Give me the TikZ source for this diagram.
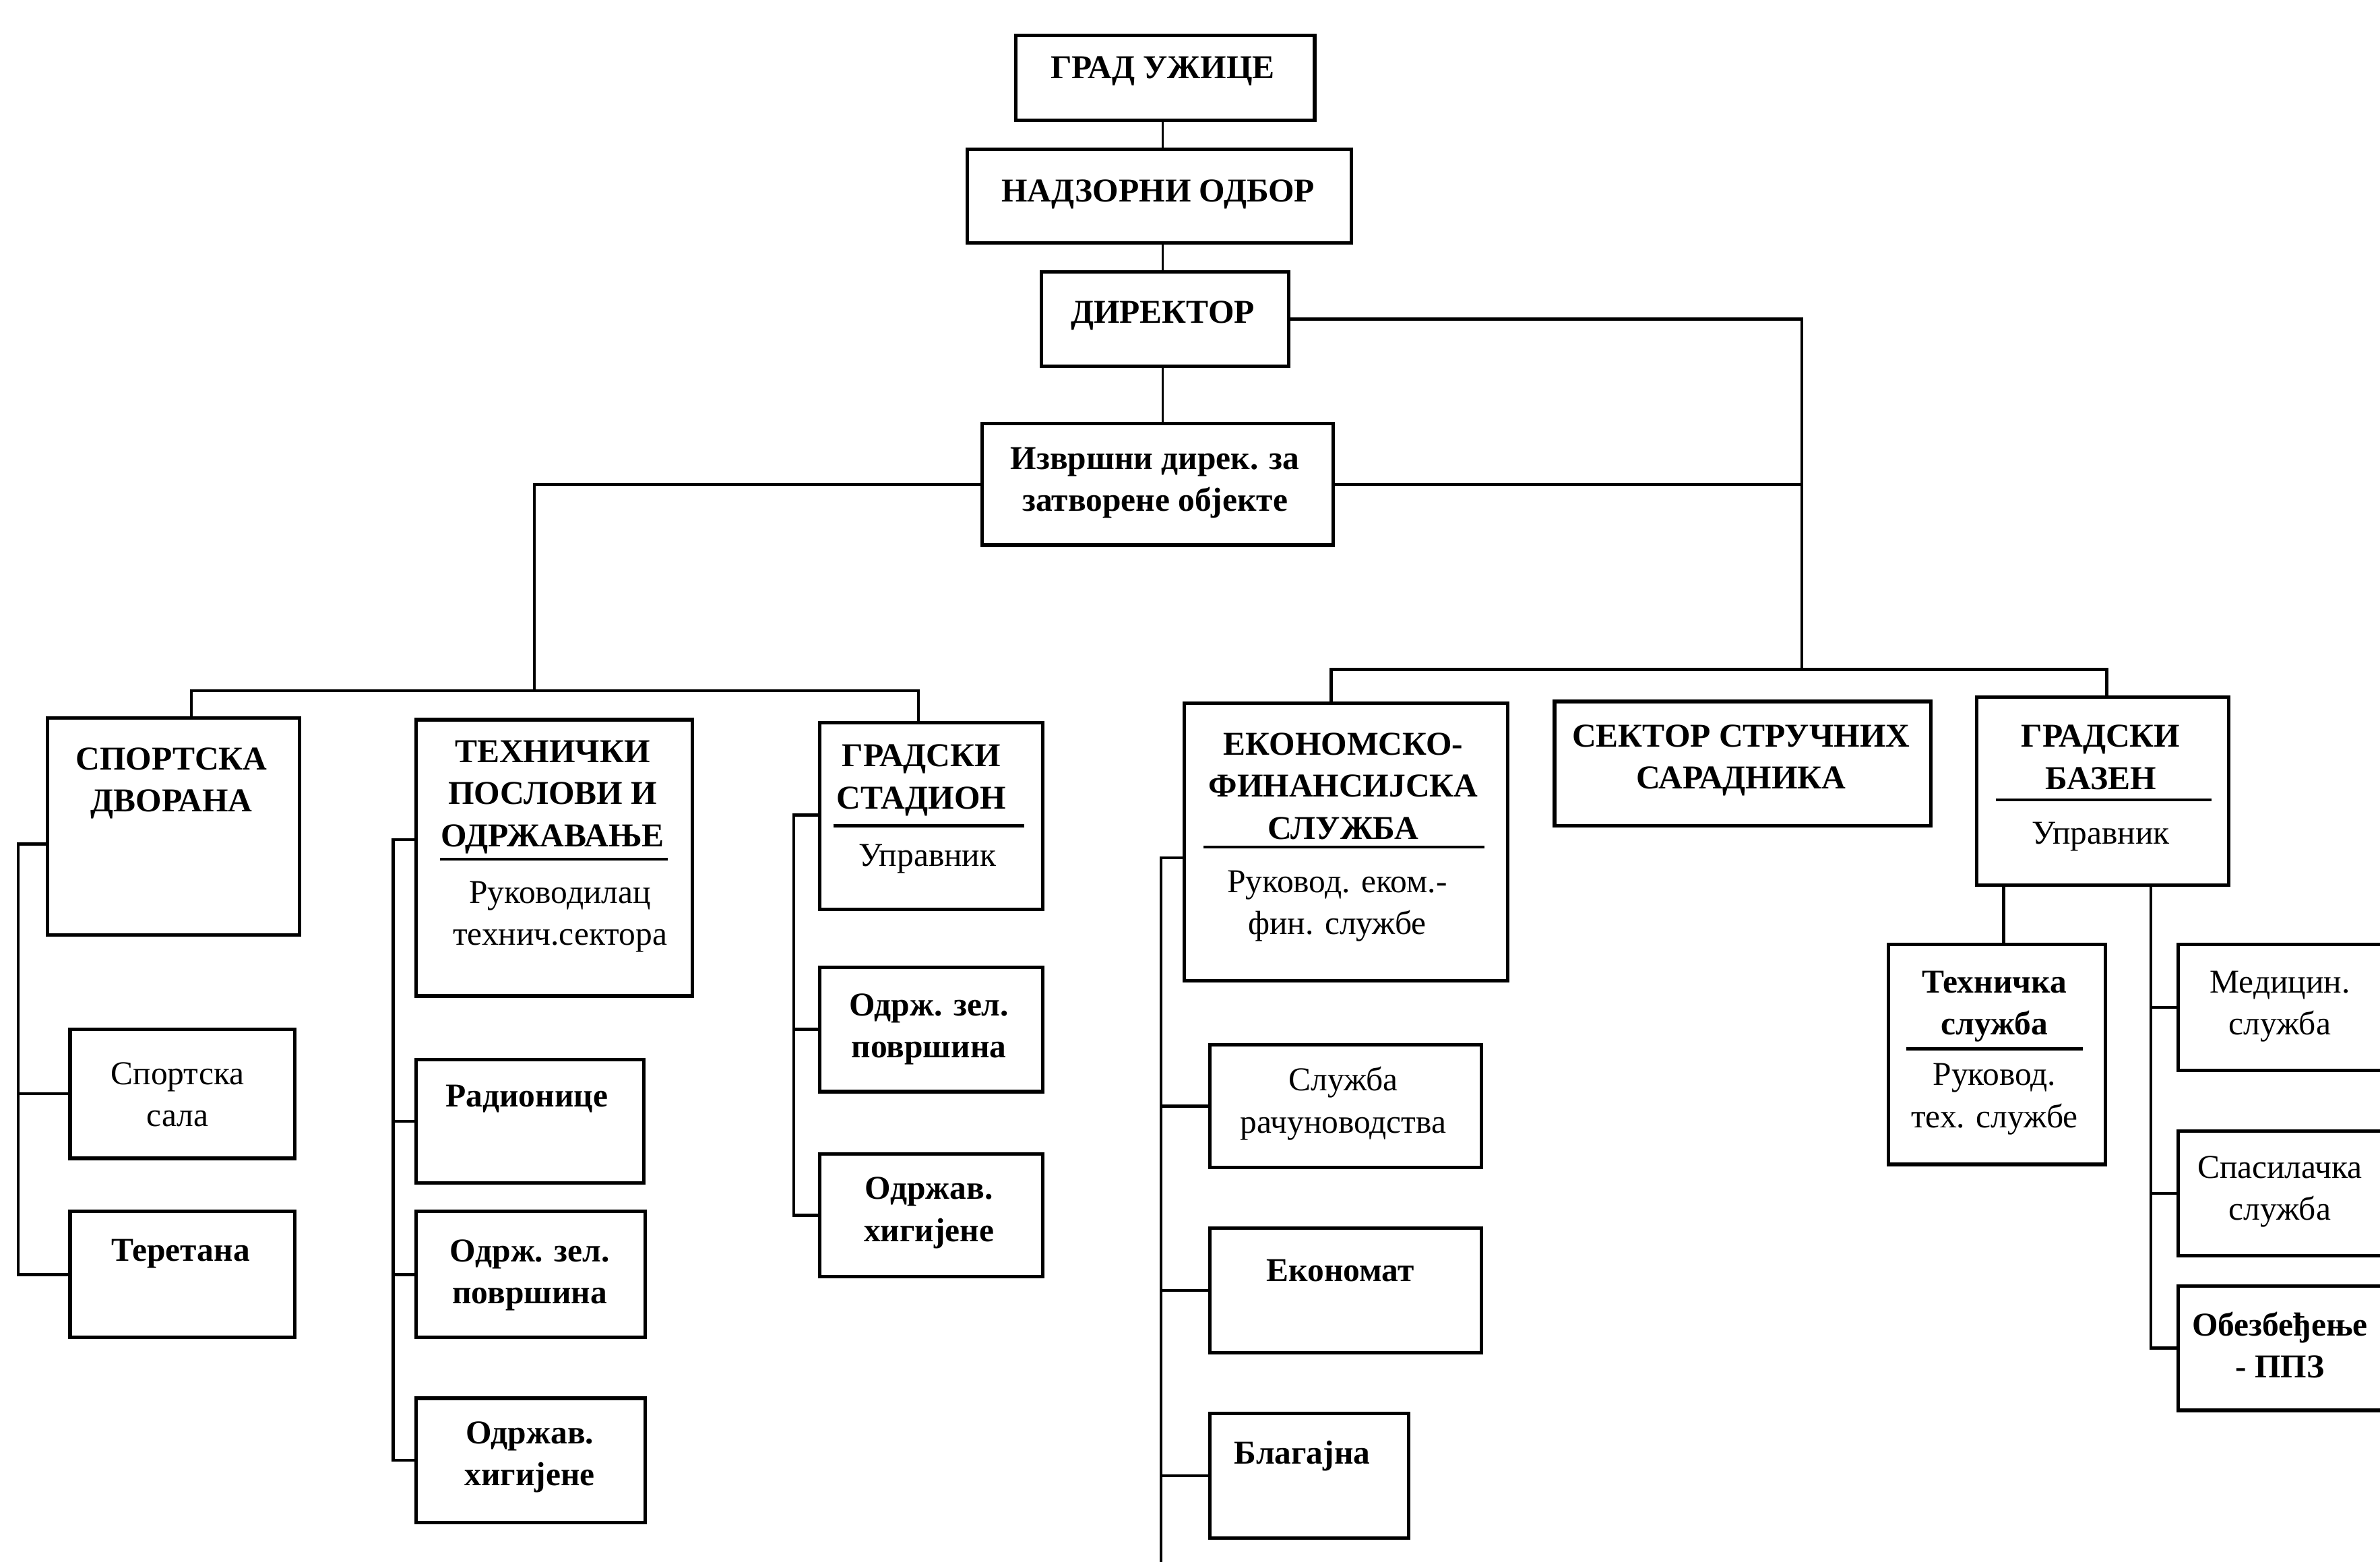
\documentclass[tikz,border=0pt]{standalone}
\usepackage{fontspec}
\setmainfont{Liberation Serif}
\newcommand\mybox[5]{\node[box,minimum width={(#4-#2)*0.02cm},minimum height={(#5-#3)*0.02cm}] (#1) at (#2,#3) {};}
\begin{document}
\begin{tikzpicture}[x=0.02cm,y=-0.02cm,
  box/.style={draw,line width=1.3pt,inner sep=0pt,anchor=north west},
  con/.style={line width=1.1pt},
  thinline/.style={line width=0.7pt},
  sep/.style={line width=1.1pt},
  tb/.style={font=\bfseries\fontsize{12.5}{15.8}\selectfont,align=center,inner sep=0pt},
  tr/.style={font=\fontsize{12.5}{15.8}\selectfont,align=center,inner sep=0pt},
]
\useasboundingbox (0,0) rectangle (1568,1029);
\clip (0,0) rectangle (1568,1029);
\fill[white] (0,0) rectangle (1568,1029);

% boxes
\mybox{gu}{668}{22}{865}{78}
\mybox{no}{636}{97}{889}{159}
\mybox{dir}{685}{178}{848}{240}
\mybox{izv}{646}{278}{877}{358}
\mybox{sd}{30}{472}{196}{615}
\mybox{th}{273}{473}{455}{655}
\mybox{gs}{539}{475}{686}{598}
\mybox{ef}{779}{462}{992}{645}
\mybox{ss}{1023}{461}{1271}{543}
\mybox{gb}{1301}{458}{1467}{582}
\mybox{sala}{45}{677}{193}{762}
\mybox{ter}{45}{797}{193}{880}
\mybox{rad}{273}{697}{423}{778}
\mybox{ozpa}{273}{797}{424}{880}
\mybox{oha}{273}{920}{424}{1002}
\mybox{ozpb}{539}{636}{686}{718}
\mybox{ohb}{539}{759}{686}{840}
\mybox{rac}{796}{687}{975}{768}
\mybox{eko}{796}{808}{975}{890}
\mybox{bla}{796}{930}{927}{1012}
\mybox{tsl}{1243}{621}{1386}{766}
\mybox{med}{1434}{621}{1600}{704}
\mybox{spa}{1434}{744}{1600}{826}
\mybox{obe}{1434}{846}{1600}{928}

% texts
\node[tb] (tgu) at (766,47) {ГРАД УЖИЦЕ};
\node[tb] (tno) at (763,128) {НАДЗОРНИ ОДБОР};
\node[tb] (tdir) at (766,208) {ДИРЕКТОР};
\node[tb] (tizv) at (761,318) {Извршни дирек. за\\затворене објекте};
\node[tb] (tsd) at (113,516) {СПОРТСКА\\ДВОРАНА};
\node[tb] (tth) at (364,525) {ТЕХНИЧКИ\\ПОСЛОВИ И\\ОДРЖАВАЊЕ};
\node[tr] (tth2) at (369,604) {Руководилац\\технич.сектора};
\node[tb] (tgs) at (607,514) {ГРАДСКИ\\СТАДИОН};
\node[tr] (tgs2) at (611,566) {Управник};
\node[tb] (tef) at (885,518) {ЕКОНОМСКО-\\ФИНАНСИЈСКА\\СЛУЖБА};
\node[tr] (tef2) at (881,597) {Руковод. еком.-\\фин. службе};
\node[tb] (tss) at (1147,501) {СЕКТОР СТРУЧНИХ\\САРАДНИКА};
\node[tb] (tgb) at (1384,499) {ГРАДСКИ\\БАЗЕН};
\node[tr] (tgb2) at (1384,551) {Управник};
\node[tr] (tsala) at (117,721) {Спортска\\сала};
\node[tb] (tter) at (119,826) {Теретана};
\node[tb] (trad) at (347,724) {Радионице};
\node[tb] (tozpa) at (349,840) {Одрж. зел.\\површина};
\node[tb] (toha) at (349,960) {Одржав.\\хигијене};
\node[tb] (tozpb) at (612,678) {Одрж. зел.\\површина};
\node[tb] (tohb) at (612,799) {Одржав.\\хигијене};
\node[tr] (trac) at (885,727) {Служба\\рачуноводства};
\node[tb] (teko) at (883,837) {Економат};
\node[tb] (tbla) at (858,959) {Благајна};
\node[tb] (ttsl) at (1314,663) {Техничка\\служба};
\node[tr] (ttsl2) at (1314,724) {Руковод.\\тех. службе};
\node[tr] (tmed) at (1502,663) {Медицин.\\служба};
\node[tr] (tspa) at (1502,785) {Спасилачка\\служба};
\node[tb] (tobe) at (1502,886) {Обезбеђење\\- ППЗ};

% separator lines inside boxes
\draw[sep] (290,566) -- (440,566);
\draw[sep] (549,544) -- (675,544);
\draw[sep] (793,558) -- (978,558);
\draw[sep] (1315,527) -- (1457,527);
\draw[sep] (1256,691) -- (1372,691);

% junction coordinates
\coordinate (rj) at (1187,441);
\coordinate (lj) at (352,455);

% top chain
\draw[thinline] (766,0 |- gu.south) -- (766,0 |- no.north);
\draw[thinline] (766,0 |- no.south) -- (766,0 |- dir.north);
\draw[thinline] (766,0 |- dir.south) -- (766,0 |- izv.north);

% director and executive director to buses
\draw[con] (dir.east) -| (rj);
\draw[con] (izv.east) -- (izv.east -| rj);
\draw[con] (izv.west) -| (lj);

% left bus
\draw[con] (126,0 |- sd.north) |- (605,455) -- (605,0 |- gs.north);
% right bus
\draw[con] (877,0 |- ef.north) |- (1388,441) -- (1388,0 |- gb.north);

% brackets: sport hall
\draw[con] (sd.west |- 0,556) -| (12,0 |- ter.west) -- (ter.west);
\draw[con] (12,0 |- sala.west) -- (sala.west);
% technical
\draw[con] (th.west |- 0,553) -| (259,0 |- oha.west) -- (oha.west);
\draw[con] (259,0 |- rad.west) -- (rad.west);
\draw[con] (259,0 |- ozpa.west) -- (ozpa.west);
% stadium
\draw[con] (gs.west |- 0,537) -| (523,0 |- ohb.west) -- (ohb.west);
\draw[con] (523,0 |- ozpb.west) -- (ozpb.west);
% economic
\draw[con] (ef.west |- 0,565) -| (765,1040);
\draw[con] (765,0 |- rac.west) -- (rac.west);
\draw[con] (765,0 |- eko.west) -- (eko.west);
\draw[con] (765,0 |- bla.west) -- (bla.west);
% pool
\draw[con] (1320,0 |- gb.south) -- (1320,0 |- tsl.north);
\draw[con] (1417,0 |- gb.south) |- (obe.west);
\draw[con] (1417,0 |- med.west) -- (med.west);
\draw[con] (1417,0 |- spa.west) -- (spa.west);
\end{tikzpicture}
\end{document}
